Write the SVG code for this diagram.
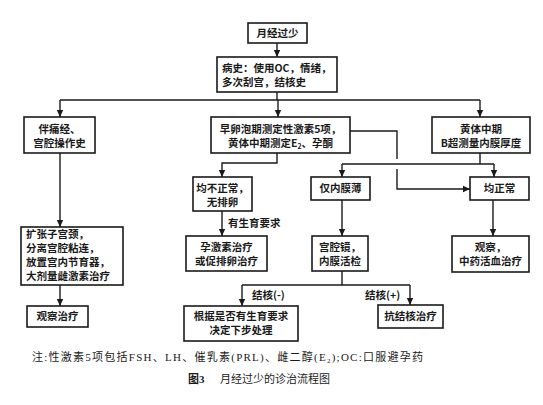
<svg xmlns="http://www.w3.org/2000/svg" width="543" height="405" viewBox="0 0 543 405">
<style>
.box{fill:#fff;stroke:#1a1a1a;stroke-width:1.6}
.t{font-family:"Noto Sans CJK SC","Liberation Sans",sans-serif;font-size:10.5px;font-weight:700;fill:#1a1a1a}
.c{text-anchor:middle}
.ln{fill:none;stroke:#1a1a1a;stroke-width:1.4}
.note{font-family:"Liberation Serif","Noto Sans CJK SC",serif;font-size:11px;fill:#1a1a1a}
</style>
<defs>
<marker id="ah" markerWidth="8" markerHeight="8" refX="7" refY="4" orient="auto" markerUnits="userSpaceOnUse">
<path d="M0,0.8 L7,4 L0,7.2 Z" fill="#1a1a1a"/>
</marker>
</defs>
<rect width="543" height="405" fill="#fff"/>
<g id="connectors">
<path class="ln" d="M277,43 V57" marker-end="url(#ah)"/>
<path class="ln" d="M277,92 V100 M60,100 H480"/>
<path class="ln" d="M60,100 V117" marker-end="url(#ah)"/>
<path class="ln" d="M278,100 V117" marker-end="url(#ah)"/>
<path class="ln" d="M480,100 V117" marker-end="url(#ah)"/>
<path class="ln" d="M350,131 H397 V159 M397,169 V189 H470" marker-end="url(#ah)"/>
<path class="ln" d="M277,153 V163 H222 V177" marker-end="url(#ah)"/>
<path class="ln" d="M480,153 V164 M342,164 H494"/>
<path class="ln" d="M342,164 V177" marker-end="url(#ah)"/>
<path class="ln" d="M494,164 V177" marker-end="url(#ah)"/>
<path class="ln" d="M222,211 V236" marker-end="url(#ah)"/>
<path class="ln" d="M60,153 V227" marker-end="url(#ah)"/>
<path class="ln" d="M60,285 V306" marker-end="url(#ah)"/>
<path class="ln" d="M342,200 V236" marker-end="url(#ah)"/>
<path class="ln" d="M493,200 V236" marker-end="url(#ah)"/>
<path class="ln" d="M342,271 V285 M242,285 H410"/>
<path class="ln" d="M242,285 V306" marker-end="url(#ah)"/>
<path class="ln" d="M410,285 V305" marker-end="url(#ah)"/>
<text class="t" x="228" y="227">有生育要求</text>
<text class="t" x="252" y="299">结核(-)</text>
<text class="t" x="365" y="299">结核(+)</text>
</g>
<g id="n1"><rect class="box" x="248" y="23" width="59" height="20"/><text class="t c" x="277.5" y="37">月经过少</text></g>
<g id="n2"><rect class="box" x="217" y="57" width="120" height="35"/><text class="t" x="222" y="72">病史：使用OC，情绪，</text><text class="t" x="222" y="86">多次刮宫，结核史</text></g>
<g id="n3"><rect class="box" x="24" y="117" width="71" height="36"/><text class="t c" x="59.5" y="133">伴痛经、</text><text class="t c" x="59.5" y="147">宫腔操作史</text></g>
<g id="n4"><rect class="box" x="211" y="117" width="139" height="36"/><text class="t c" x="280.5" y="133">早卵泡期测定性激素5项，</text><text class="t c" x="280.5" y="147">黄体中期测定E<tspan font-size="7" dy="2">2</tspan><tspan dy="-2">、孕酮</tspan></text></g>
<g id="n5"><rect class="box" x="432" y="117" width="98" height="36"/><text class="t c" x="481" y="133">黄体中期</text><text class="t c" x="481" y="147">B超测量内膜厚度</text></g>
<g id="n6"><rect class="box" x="193" y="177" width="59" height="34"/><text class="t c" x="222.5" y="192">均不正常，</text><text class="t c" x="222.5" y="206">无排卵</text></g>
<g id="n7"><rect class="box" x="311" y="177" width="59" height="23"/><text class="t c" x="340.5" y="192">仅内膜薄</text></g>
<g id="n8"><rect class="box" x="470" y="177" width="59" height="23"/><text class="t c" x="499.5" y="192">均正常</text></g>
<g id="n9"><rect class="box" x="21" y="227" width="102" height="58"/><text class="t" x="26" y="238">扩张子宫颈，</text><text class="t" x="26" y="252">分离宫腔粘连，</text><text class="t" x="26" y="266">放置宫内节育器，</text><text class="t" x="26" y="280">大剂量雌激素治疗</text></g>
<g id="n10"><rect class="box" x="186" y="236" width="81" height="35"/><text class="t c" x="226.5" y="251">孕激素治疗</text><text class="t c" x="226.5" y="265">或促排卵治疗</text></g>
<g id="n11"><rect class="box" x="312" y="236" width="56" height="35"/><text class="t c" x="340" y="251">宫腔镜，</text><text class="t c" x="340" y="265">内膜活检</text></g>
<g id="n12"><rect class="box" x="452" y="236" width="77" height="36"/><text class="t c" x="490.5" y="251">观察，</text><text class="t c" x="490.5" y="265">中药活血治疗</text></g>
<g id="n13"><rect class="box" x="27" y="306" width="61" height="21"/><text class="t c" x="57.5" y="320">观察治疗</text></g>
<g id="n14"><rect class="box" x="184" y="306" width="114" height="35"/><text class="t c" x="241" y="320">根据是否有生育要求</text><text class="t c" x="241" y="334">决定下步处理</text></g>
<g id="n15"><rect class="box" x="378" y="305" width="65" height="23"/><text class="t c" x="410.5" y="320">抗结核治疗</text></g>
<text class="note" x="32" y="361" textLength="391" lengthAdjust="spacing">注:性激素5项包括FSH、LH、催乳素(PRL)、雌二醇(E<tspan font-size="7" dy="2">2</tspan><tspan dy="-2">);OC:口服避孕药</tspan></text>
<text class="note" x="188" y="383" font-size="12"><tspan font-weight="700">图3</tspan><tspan x="220">月经过少的诊治流程图</tspan></text>
</svg>
